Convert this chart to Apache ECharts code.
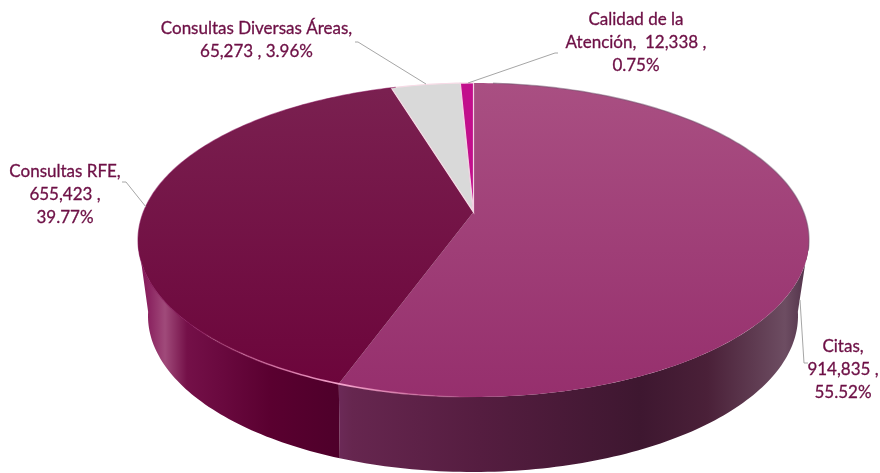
<!DOCTYPE html>
<html>
<head>
<meta charset="utf-8">
<style>html,body{margin:0;padding:0;background:#fff}#chart{width:880px;height:473px}</style>
<script src="https://cdn.jsdelivr.net/npm/echarts@6/dist/echarts.min.js"></script>
</head>
<body>
<div id="chart"></div>
<script>
// Service volumes, clockwise from twelve o'clock
const categories = ['Citas', 'Consultas RFE', 'Consultas Diversas Áreas', 'Calidad de la Atención'];
const volumes = [914835, 655423, 65273, 12338];
const volumeLabels = ['914,835', '655,423', '65,273', '12,338'];
const percentLabels = ['55.52%', '39.77%', '3.96%', '0.75%'];

// Label line breaks, text anchors and leader paths
const labelLines = [
  n => [n + ',', volumeLabels[0] + ' ,', percentLabels[0]],
  n => [n + ',', volumeLabels[1] + ' ,', percentLabels[1]],
  n => [n + ',', volumeLabels[2] + ' , ' + percentLabels[2]],
  () => ['Calidad de la', 'Atención,  ' + volumeLabels[3] + ' ,', percentLabels[3]]
];
const labelAnchors = [[843, 347], [65, 172], [256.5, 29], [636, 20]];
const leaders = [
  [[808, 363], [804, 363], [800, 300]],
  [[122, 182], [126, 182], [146, 207]],
  [[355, 42], [358, 42], [426, 84]],
  [[558, 53], [555, 53], [468, 83]]
];

// Projected disc geometry: the rim is an ellipse and the pie's hub sits above its centre
const topDisc = { cx: 473.5, cy: 240, rx: 335.5, ry: 157, tilt: -0.178 };
const baseDisc = { cx: 473, cy: 316, rx: 325, ry: 156, tilt: -0.2 };
const hub = [topDisc.cx, topDisc.cy + topDisc.tilt * topDisc.ry];
const wallRange = [100, 260];

function project(disc, deg) {
  const t = deg * Math.PI / 180;
  const x = Math.sin(t), y = -Math.cos(t), a = disc.tilt;
  const d = 1 + a * y;
  return [disc.cx + disc.rx * x * Math.sqrt(1 - a * a) / d, disc.cy + disc.ry * (y + a) / d];
}
function arc(disc, from, to) {
  const pts = [], n = Math.max(2, Math.ceil(Math.abs(to - from)));
  for (let i = 0; i <= n; i++) pts.push(project(disc, from + (to - from) * i / n));
  return pts;
}

const total = volumes.reduce((s, v) => s + v, 0);
function sweep(i) {
  let start = 0;
  for (let k = 0; k < i; k++) start += volumes[k];
  return [start / total * 360, (start + volumes[i]) / total * 360];
}
const horizontal = (stops, x0, x1) => ({
  type: 'linear', global: true, x: x0, y: 0, x2: x1, y2: 0,
  colorStops: stops.map(s => ({ offset: (s[0] - x0) / (x1 - x0), color: s[1] }))
});
const vertical = (c0, c1, y0, y1) => ({
  type: 'linear', global: true, x: 0, y: y0, x2: 0, y2: y1,
  colorStops: [{ offset: 0, color: c0 }, { offset: 1, color: c1 }]
});

const faceFills = [
  vertical('#a94f82', '#962f6d', 84, 397),
  vertical('#7a2050', '#6c053b', 90, 385),
  '#d9d9d9',
  '#c20f8c'
];
const faceStrokes = [null, null, '#f6dbe6', '#f3d3e4'];
const wallFills = [
  horizontal([[338, '#6c2a58'], [352, '#66264f'], [480, '#551d40'], [640, '#3e1730'], [707, '#4a2038'], [753, '#5e3a50'], [785, '#6d4d62'], [808, '#503048']], 338, 808),
  horizontal([[140, '#851658'], [150, '#8c2662'], [165, '#a04a7a'], [187, '#741048'], [217, '#6b0a40'], [270, '#5a0030'], [340, '#4e002a']], 140, 340)
];

const chart = echarts.init(document.getElementById('chart'), null, { renderer: 'canvas' });
const seriesData = categories.map((c, i) => ({ name: c, value: volumes[i] }));

chart.setOption({
  animation: false,
  backgroundColor: '#ffffff',
  series: [
    {
      // Side wall of each slice that faces the viewer
      type: 'custom', coordinateSystem: 'none', silent: true, z: 1, data: seriesData,
      renderItem(params) {
        const i = params.dataIndex, s = sweep(i);
        const from = Math.max(s[0], wallRange[0]), to = Math.min(s[1], wallRange[1]);
        if (to <= from) return null;
        const pts = arc(topDisc, from, to).concat(arc(baseDisc, to, from));
        return { type: 'polygon', shape: { points: pts }, style: { fill: wallFills[i] } };
      }
    },
    {
      // Upper face of each slice
      type: 'custom', coordinateSystem: 'none', silent: true, z: 2, data: seriesData,
      renderItem(params) {
        const i = params.dataIndex, s = sweep(i);
        const pts = [hub].concat(arc(topDisc, s[0], s[1]));
        const style = { fill: faceFills[i] };
        if (faceStrokes[i]) { style.stroke = faceStrokes[i]; style.lineWidth = 1.2; }
        return { type: 'polygon', shape: { points: pts }, style };
      }
    },
    {
      // Bevel: soft dark edge on the far rim, bright edge on the near rim
      type: 'custom', coordinateSystem: 'none', silent: true, z: 3, data: [total],
      renderItem() {
        return {
          type: 'group',
          children: [
            { type: 'polyline', shape: { points: arc(topDisc, 4, 104) },
              style: { fill: null, stroke: 'rgba(110,80,105,0.5)', lineWidth: 1.4 } },
            { type: 'polyline', shape: { points: arc(topDisc, 225, 344) },
              style: { fill: null, stroke: 'rgba(125,10,78,0.55)', lineWidth: 1.2 } },
            { type: 'polyline', shape: { points: arc(topDisc, 150, 246) },
              style: { fill: null, lineWidth: 1.6,
                stroke: horizontal([[190, 'rgba(240,120,180,0)'], [275, 'rgba(240,140,190,0.65)'], [340, 'rgba(250,170,210,0.95)'], [400, 'rgba(245,150,195,0.6)'], [480, 'rgba(240,120,180,0)']], 190, 480) } }
          ]
        };
      }
    },
    {
      // Leader lines and value labels
      type: 'custom', coordinateSystem: 'none', silent: true, z: 4, data: seriesData,
      renderItem(params) {
        const i = params.dataIndex;
        const lines = labelLines[i](categories[i]);
        const children = [{
          type: 'polyline', shape: { points: leaders[i] },
          style: { fill: null, stroke: '#a6a6a6', lineWidth: 1 }
        }];
        lines.forEach((t, k) => children.push({
          type: 'text', x: labelAnchors[i][0], y: labelAnchors[i][1] + k * 22.7,
          style: { text: t, align: 'center', verticalAlign: 'middle', fill: '#6d0f45',
            stroke: '#6d0f45', lineWidth: 0.3, font: '17px Lato, "Open Sans", sans-serif' }
        }));
        return { type: 'group', children };
      }
    }
  ]
});
</script>
</body>
</html>
